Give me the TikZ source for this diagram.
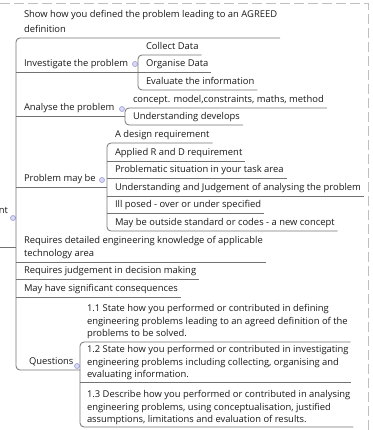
\documentclass[tikz,border=0pt]{standalone}
\usepackage{fontspec}
\setmainfont{Open Sans}

\begin{document}
\begin{tikzpicture}[x=1pt,y=-1pt,
		topic/.style={anchor=south west,inner xsep=3pt,inner ysep=5.5pt,outer sep=0pt,text depth=0pt,align=left,text=black!90,font=\fontsize{9.4}{12.6}\selectfont},
		question/.style={topic,inner ysep=4.5pt,font=\fontsize{9.4}{12.4}\selectfont},
		branch/.style={draw=black!55,line width=0.8pt,rounded corners=4pt},
		fold/.style={circle,draw=blue!30!gray!60,fill=blue!15,line width=0.6pt,inner sep=0pt,minimum size=5pt},
		frame/.style={draw=black!25,line width=1pt,dash pattern=on 10pt off 4pt}]
				\useasboundingbox (0,0) rectangle (372,430);
				\draw[frame] (0,4) -- (368,4) -- (368,430);

				\coordinate (s0) at (16,0);
				\coordinate (s2) at (138,0);
				\coordinate (s3) at (125,0);
				\coordinate (s4) at (107,0);
				\coordinate (s8) at (80,0);

				\node[topic,anchor=base east,inner sep=0pt] (node0) at (8,213) {nt};
				\coordinate (node0end) at (0,247);
				\node[fold] (fold0) at (13,218) {};

				\node[topic,font=\fontsize{9.4}{15}\selectfont] (node1) at (21,38) {Show how you defined the problem leading to an AGREED\\definition};
				\node[topic] (node2) at (21,72) {Investigate the problem};
				\node[topic] (node3) at (21,116) {Analyse the problem};
				\node[topic] (node4) at (21,187) {Problem may be};
				\node[topic,font=\fontsize{9.4}{13.3}\selectfont] (node5) at (21,262) {Requires detailed engineering knowledge of applicable\\technology area};
				\node[topic] (node6) at (21,279) {Requires judgement in decision making};
				\node[topic] (node7) at (21,297) {May have significant consequences};
				\node[topic] (node8) at (26,370) {Questions};

				\node[topic] (node2a) at (143,55) {Collect Data};
				\node[topic] (node2b) at (143,72) {Organise Data};
				\node[topic] (node2c) at (143,90) {Evaluate the information};

				\node[topic] (node3a) at (130,108) {concept. model,constraints, maths, method};
				\node[topic] (node3b) at (130,125) {Understanding develops};

				\node[topic] (node4a) at (112,143) {A design requirement};
				\node[topic] (node4b) at (112,161) {Applied R and D requirement};
				\node[topic] (node4c) at (112,178) {Problematic situation in your task area};
				\node[topic] (node4d) at (112,196) {Understanding and Judgement of analysing the problem};
				\node[topic] (node4e) at (112,213) {Ill posed - over or under specified};
				\node[topic] (node4f) at (112,231) {May be outside standard or codes - a new concept};

				\node[question,inner ysep=5.5pt] (node8a) at (84,342) {1.1 State how you performed or contributed in defining\\engineering problems leading to an agreed definition of the\\problems to be solved.};
				\node[question] (node8b) at (84,382) {1.2 State how you performed or contributed in investigating\\engineering problems including collecting, organising and\\evaluating information.};
				\node[question] (node8c) at (84,427) {1.3 Describe how you performed or contributed in analysing\\engineering problems, using conceptualisation, justified\\assumptions, limitations and evaluation of results.};

				\node[fold] (fold2) at (135,64) {};
				\node[fold] (fold3) at (122,109) {};
				\node[fold] (fold4) at (102,180) {};
				\node[fold] (fold8) at (77,366) {};

				\draw[branch] (node0end) -- (node0end -| s0);
				\draw[branch] (node1.south east) -- (node1.south -| s0) -- (node8.south -| s0) -- (node8.south -| s8);
				\draw[branch] (node2.south -| s0) -- (node2.south -| s2);
				\draw[branch] (node3.south -| s0) -- (node3.south -| s3);
				\draw[branch] (node4.south -| s0) -- (node4.south -| s4);
				\draw[branch] (node5.south -| s0) -- (node5.south east);
				\draw[branch] (node6.south -| s0) -- (node6.south east);
				\draw[branch] (node7.south -| s0) -- (node7.south east);

				\draw[branch] (node2a.south east) -- (node2a.south -| s2) -- (node2c.south -| s2) -- (node2c.south east);
				\draw[branch] (node2b.south -| s2) -- (node2b.south east);

				\draw[branch] (node3a.south east) -- (node3a.south -| s3) -- (node3b.south -| s3) -- (node3b.south east);

				\draw[branch] (node4a.south east) -- (node4a.south -| s4) -- (node4f.south -| s4) -- (node4f.south east);
				\draw[branch] (node4b.south -| s4) -- (node4b.south east);
				\draw[branch] (node4c.south -| s4) -- (node4c.south east);
				\draw[branch] (node4d.south -| s4) -- (node4d.south east);
				\draw[branch] (node4e.south -| s4) -- (node4e.south east);

				\draw[branch] (node8a.south east) -- (node8a.south -| s8) -- (node8c.south -| s8) -- (node8c.south east);
				\draw[branch] (node8b.south -| s8) -- (node8b.south east);
		\end{tikzpicture}
\end{document}
